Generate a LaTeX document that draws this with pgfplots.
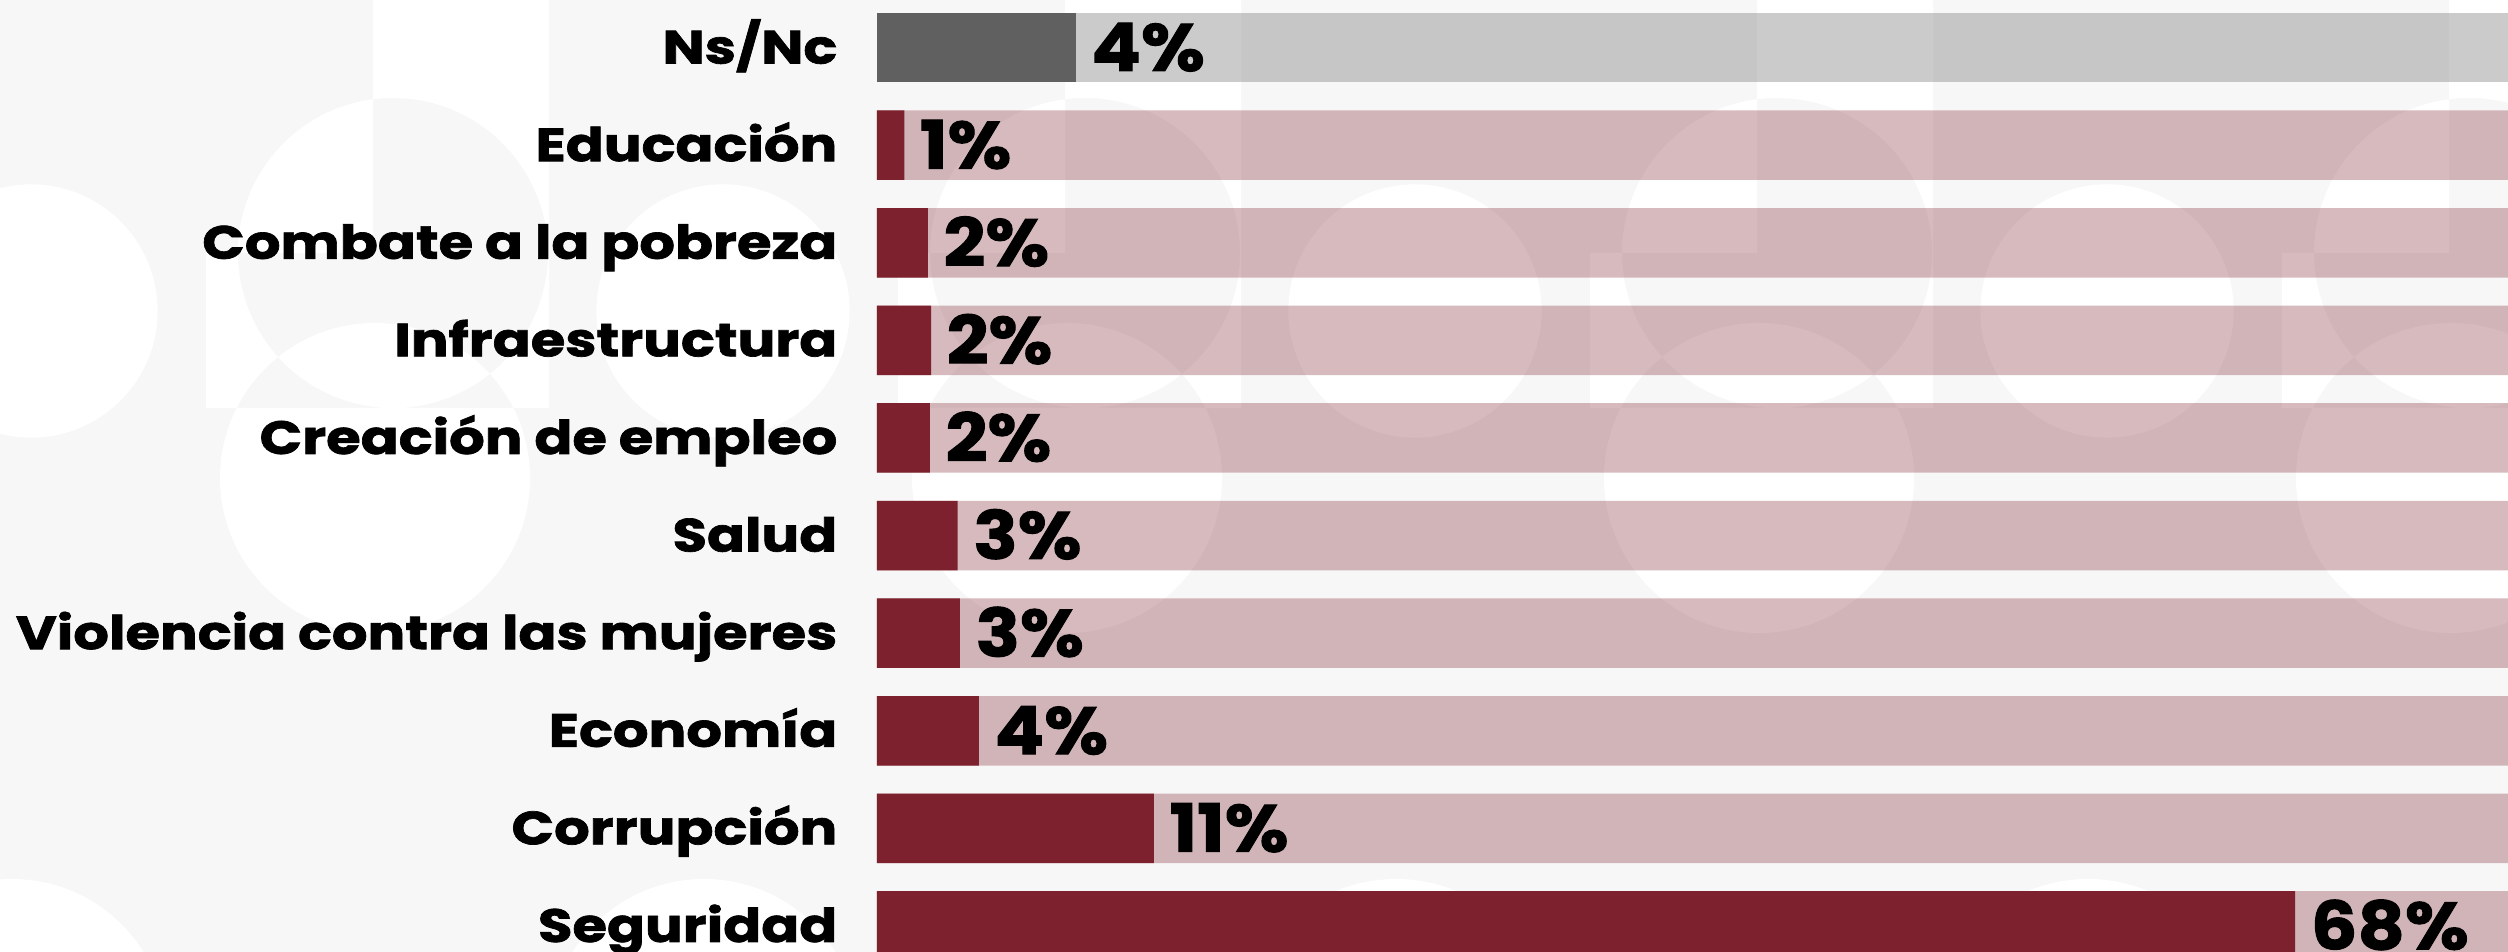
\documentclass[border=0pt]{standalone}
\usepackage{pgfplots}
\pgfplotsset{compat=1.18}
\usepackage{pgfplotstable}
\usepackage{fontspec}
\setmainfont{Poppins}
\newfontfamily\catfont{Poppins}[FakeStretch=1.2, BoldFeatures={FakeBold=1.5}]
\newfontfamily\valfont{Poppins}[FakeStretch=1.1, BoldFeatures={FakeBold=1.5}]
\definecolor{vino}{HTML}{7C212D}
\definecolor{gris}{HTML}{606060}
\definecolor{fondo}{HTML}{F7F7F7}

% y: 0 = Seguridad ... 9 = Ns/Nc ; len = bar length as drawn, pct = printed value
\pgfplotstableread{
y len pct
0 68.00 68
1 13.28 11
2 4.89 4
3 3.98 3
4 3.87 3
5 2.54 2
6 2.59 2
7 2.44 2
8 1.31 1
}\rojos
\pgfplotstableread{
y len pct
9 9.53 4
}\nsnc
\pgfplotstableread{
y len
0 78.21
1 78.21
2 78.21
3 78.21
4 78.21
5 78.21
6 78.21
7 78.21
8 78.21
}\fondorojo

\begin{document}
\begin{tikzpicture}
\useasboundingbox (0,0) rectangle (752.4pt,285.6pt);
\clip (0,0) rectangle (752.4pt,285.6pt);
\fill[fondo] (0,0) rectangle (752.4pt,285.6pt);
% decorative background pattern
\begin{scope}[x=0.3pt,y=-0.3pt,yshift=285.6pt]
  \foreach \ox in {-692,0,692,1384,2076}{
    \fill[white, even odd rule]
      (\ox+393,253) circle[radius=46.5pt]
      (\ox+373,-10) rectangle (\ox+549,253)
      (\ox+206,253) rectangle (\ox+549,408)
      (\ox+31,311) circle[radius=38pt]
      (\ox+375,478) circle[radius=46.5pt]
      (\ox+12,1034) circle[radius=46.5pt];
  }
\end{scope}
\begin{axis}[
  at={(263.1pt,-6.84pt)}, anchor=south west,
  scale only axis, width=489.3pt, height=292.8pt,
  xmin=0, xmax=78.21, ymin=-0.5, ymax=9.5,
  clip=false,
  axis line style={draw=none},
  major tick length=0pt,
  xtick=\empty,
  ytick={0,...,9},
  yticklabels={Seguridad, Corrupción, Economía, Violencia contra las mujeres, Salud,
    Creación de empleo, Infraestructura, Combate a la pobreza, Educación, Ns/Nc},
  yticklabel style={font=\catfont\fontsize{14}{16}\selectfont\bfseries, anchor=base east,
    inner sep=0pt, xshift=-11.7pt, yshift=-4.8pt},
  xbar, bar width=20.85pt, bar shift=0pt,
]
\addplot[xbar, fill=vino, fill opacity=0.31, draw=none] table[x=len, y=y] {\fondorojo};
\addplot[xbar, fill=gris, fill opacity=0.32, draw=none] coordinates {(78.21,9)};
\addplot[xbar, fill=vino, draw=none,
  point meta=explicit symbolic,
  nodes near coords={\pgfplotspointmeta\%},
  nodes near coords style={font=\valfont\fontsize{20}{22}\selectfont\bfseries, text=black,
    anchor=base west, inner sep=0pt, xshift=4.5pt, yshift=-7pt}]
  table[x=len, y=y, meta=pct] {\rojos};
\addplot[xbar, fill=gris, draw=none,
  point meta=explicit symbolic,
  nodes near coords={\pgfplotspointmeta\%},
  nodes near coords style={font=\valfont\fontsize{20}{22}\selectfont\bfseries, text=black,
    anchor=base west, inner sep=0pt, xshift=4.5pt, yshift=-7pt}]
  table[x=len, y=y, meta=pct] {\nsnc};
\end{axis}
\end{tikzpicture}
\end{document}
